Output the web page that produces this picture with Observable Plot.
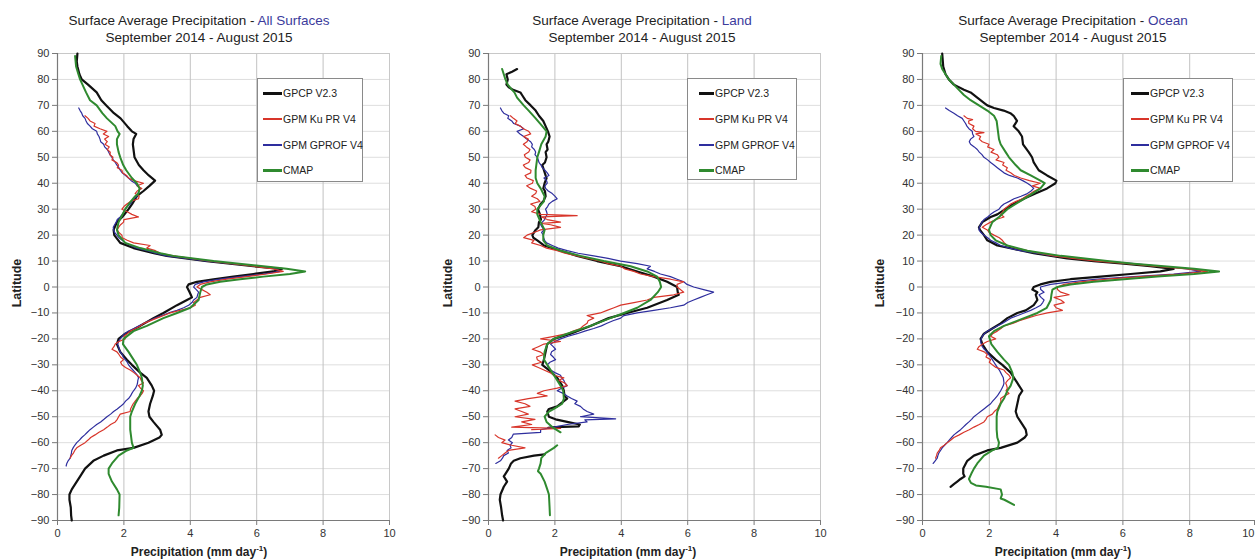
<!DOCTYPE html>
<html><head><meta charset="utf-8">
<script src="https://cdn.jsdelivr.net/npm/d3@7"></script>
<script src="https://cdn.jsdelivr.net/npm/@observablehq/plot@0.6"></script>
<style>
body{margin:0;background:#fff;font-family:"Liberation Sans",Arial,sans-serif;}
#wrap{position:relative;width:1255px;height:559px;overflow:hidden;background:#fff;}
.panel{position:absolute;top:0;width:420px;height:559px;}
.title{position:absolute;top:12px;font-size:13.5px;line-height:17px;color:#222;white-space:nowrap;text-align:center;transform:translateX(-50%);}
.title .hl{color:#3b3b9c;}
.ylab{position:absolute;font-size:12.5px;font-weight:bold;color:#222;white-space:nowrap;transform:translate(-50%,-50%) rotate(-90deg);}
.xlab{position:absolute;top:545px;font-size:12px;font-weight:bold;color:#222;white-space:nowrap;transform:translateX(-50%);}
.xlab sup{font-size:8px;vertical-align:5px;line-height:0;}
.legend{position:absolute;border:1px solid #8a8a8a;background:#fff;box-sizing:border-box;}
.legend .row{position:absolute;left:0;right:0;height:14px;font-size:10.5px;color:#222;white-space:nowrap;}
.legend .sw{position:absolute;top:6px;height:2px;}
.legend .tx{position:absolute;top:0;line-height:14px;}
</style>
</head><body>
<div id="wrap"></div>
<script>
// ---------- data: [latitude, precipitation (mm/day)] ----------
const seriesNames = ["GPCP V2.3", "GPM Ku PR V4", "GPM GPROF V4", "CMAP"];
const seriesColors = ["#111111", "#d8352a", "#2e2e9e", "#2f8a2f"];
const seriesWidths = [2.2, 1.2, 1.2, 2];
const latTicks = [-90,-80,-70,-60,-50,-40,-30,-20,-10,0,10,20,30,40,50,60,70,80,90];
const precipTicks = [0,2,4,6,8,10];
const latDomain = [-90, 90];
const precipDomain = [0, 10];
const panelTitles = [["Surface Average Precipitation - ", "All Surfaces"], ["Surface Average Precipitation - ", "Land"], ["Surface Average Precipitation - ", "Ocean"]];
const subTitle = "September 2014 - August 2015";

const allGPCP = [[90,0.6],[87,0.58],[85,0.6],[82,0.66],[80,0.73],[78,0.92],[75,1.18],[72,1.32],[70,1.47],[67,1.7],[65,1.9],[62,2.1],[60,2.24],[59,2.37],[57,2.29],[55,2.27],[52,2.3],[50,2.32],[47,2.45],[45,2.59],[43,2.75],[41,2.94],[39,2.77],[37,2.59],[35,2.39],[32,2.25],[30,2.14],[27,1.95],[25,1.79],[22,1.69],[20,1.71],[17,1.89],[15,2.29],[13,2.9],[12,3.29],[10,4.5],[8,5.9],[7,6.76],[6,6.5],[5,5.9],[4,5.3],[3,4.7],[2,4.2],[1,3.95],[0,3.9],[-2,3.98],[-4,4.05],[-5,3.9],[-7,3.6],[-10,3.19],[-12,2.89],[-15,2.49],[-17,2.19],[-18,2.04],[-20,1.84],[-22,1.79],[-25,1.89],[-28,2.09],[-30,2.24],[-33,2.49],[-35,2.69],[-38,2.84],[-40,2.91],[-42,2.87],[-45,2.79],[-48,2.74],[-50,2.77],[-52,2.89],[-55,3.09],[-57,3.14],[-58,3.07],[-60,2.74],[-62,2.29],[-63,1.79],[-65,1.39],[-67,1.08],[-70,0.83],[-72,0.73],[-75,0.58],[-78,0.43],[-80,0.36],[-82,0.36],[-85,0.4],[-88,0.41],[-90,0.43]];
const allKu = [[66,0.83],[65,0.92],[64,0.98],[63,1.13],[62,1.1],[61,1.28],[60,1.49],[59,1.38],[58,1.54],[57,1.42],[56,1.5],[55,1.43],[54,1.56],[53,1.5],[52,1.59],[51,1.58],[50,1.67],[49,1.64],[48,1.78],[47,1.84],[46,1.8],[45,1.94],[44,1.96],[43,2.08],[42,2.14],[41,2.3],[40,2.59],[39,2.4],[38,2.54],[37,2.4],[36,2.34],[35,2.46],[34,2.44],[33,2.2],[32,2.09],[31,2.0],[30,1.94],[29,2.1],[28,2.24],[27,2.44],[26,2.0],[25,1.99],[24,1.9],[23,1.84],[22,1.8],[21,1.85],[20,1.94],[19,1.95],[18,2.1],[17,2.29],[16,2.79],[15,2.69],[14,2.95],[13,3.1],[12,3.49],[10,4.6],[8,5.9],[7,6.5],[6,6.8],[5,6.3],[4,5.7],[3,5.1],[2,4.6],[1,4.3],[0,4.2],[-1,4.35],[-2,4.5],[-3,4.6],[-4,4.3],[-5,4.2],[-6,4.1],[-7,4.15],[-8,4.0],[-10,3.39],[-12,2.99],[-14,2.6],[-15,2.49],[-16,2.35],[-17,2.19],[-18,2.1],[-19,2.0],[-20,2.04],[-21,1.85],[-22,1.74],[-23,1.7],[-24,1.64],[-25,1.79],[-26,1.85],[-27,1.9],[-28,1.99],[-29,1.9],[-30,1.94],[-31,2.05],[-32,2.19],[-33,2.3],[-34,2.4],[-35,2.49],[-36,2.52],[-37,2.59],[-38,2.44],[-39,2.5],[-40,2.59],[-41,2.55],[-42,2.49],[-43,2.4],[-44,2.34],[-45,2.28],[-46,2.24],[-47,2.2],[-48,2.19],[-49,1.89],[-50,1.84],[-51,1.8],[-52,1.74],[-53,1.6],[-54,1.5],[-55,1.39],[-56,1.25],[-57,1.13],[-58,1.0],[-59,0.92],[-60,0.83],[-61,0.7],[-62,0.58],[-63,0.52],[-64,0.48],[-65,0.42],[-66,0.38]];
const allGPROF = [[69,0.64],[68,0.68],[67,0.73],[66,0.76],[65,0.83],[64,0.86],[63,0.9],[62,0.98],[61,1.05],[60,1.18],[59,1.2],[58,1.25],[57,1.28],[56,1.3],[55,1.39],[54,1.42],[53,1.5],[52,1.54],[51,1.58],[50,1.64],[49,1.68],[48,1.74],[47,1.79],[46,1.85],[45,1.89],[44,1.95],[43,2.05],[42,2.14],[41,2.22],[40,2.34],[39,2.4],[38,2.49],[37,2.45],[36,2.42],[35,2.39],[34,2.3],[33,2.25],[32,2.19],[31,2.1],[30,2.04],[29,2.0],[28,1.95],[27,1.89],[26,1.8],[25,1.77],[24,1.72],[23,1.68],[22,1.69],[21,1.72],[20,1.79],[19,1.85],[18,1.95],[17,2.04],[16,2.2],[15,2.39],[14,2.7],[13,2.95],[12,3.29],[10,4.5],[8,6.0],[7,6.6],[6,6.7],[5,6.2],[4,5.5],[3,4.9],[2,4.4],[1,4.15],[0,4.1],[-1,4.18],[-2,4.25],[-3,4.22],[-4,4.2],[-5,4.1],[-6,4.05],[-7,3.95],[-8,3.8],[-9,3.6],[-10,3.35],[-12,2.94],[-14,2.6],[-15,2.44],[-16,2.3],[-17,2.14],[-18,2.02],[-19,1.95],[-20,1.89],[-21,1.84],[-22,1.81],[-23,1.84],[-24,1.86],[-25,1.89],[-26,1.95],[-27,1.98],[-28,2.04],[-29,2.1],[-30,2.14],[-31,2.2],[-32,2.27],[-33,2.34],[-34,2.4],[-35,2.44],[-36,2.42],[-37,2.41],[-38,2.39],[-39,2.35],[-40,2.29],[-41,2.24],[-42,2.2],[-43,2.14],[-44,2.05],[-45,1.99],[-46,1.9],[-47,1.8],[-48,1.69],[-49,1.6],[-50,1.49],[-51,1.4],[-52,1.3],[-53,1.18],[-54,1.08],[-55,0.98],[-56,0.9],[-57,0.82],[-58,0.73],[-59,0.66],[-60,0.58],[-61,0.52],[-62,0.47],[-63,0.43],[-64,0.42],[-65,0.4],[-66,0.38],[-67,0.32],[-68,0.28],[-69,0.26]];
const allCMAP = [[89,0.53],[85,0.56],[82,0.63],[80,0.68],[75,0.86],[72,0.98],[70,1.18],[67,1.35],[65,1.49],[62,1.74],[60,1.81],[59,1.87],[57,1.79],[55,1.79],[52,1.84],[50,1.89],[47,1.98],[45,2.07],[42,2.24],[40,2.39],[38,2.47],[36,2.44],[35,2.34],[32,2.15],[30,2.04],[27,1.92],[25,1.84],[22,1.79],[20,1.84],[17,2.04],[15,2.49],[13,3.1],[12,3.49],[10,4.7],[8,6.2],[7,6.9],[6,7.46],[5,7.0],[4,6.2],[3,5.5],[2,4.9],[1,4.5],[0,4.35],[-2,4.3],[-5,4.25],[-8,4.0],[-10,3.6],[-12,3.19],[-15,2.69],[-17,2.29],[-20,1.99],[-22,1.97],[-25,2.14],[-28,2.29],[-30,2.39],[-33,2.49],[-35,2.54],[-38,2.57],[-40,2.54],[-42,2.47],[-45,2.34],[-48,2.24],[-50,2.19],[-55,2.19],[-60,2.24],[-62,2.29],[-63,2.09],[-65,1.84],[-68,1.64],[-70,1.54],[-72,1.54],[-75,1.64],[-78,1.79],[-80,1.87],[-85,1.86],[-88,1.84]];

const landGPCP = [[84,0.86],[83,0.71],[82,0.54],[80,0.58],[78,0.54],[77,0.61],[76,0.74],[75,0.96],[74,1.01],[72,1.11],[70,1.27],[68,1.42],[66,1.52],[64,1.65],[62,1.72],[60,1.79],[58,1.84],[56,1.8],[55,1.75],[53,1.78],[52,1.72],[50,1.75],[48,1.7],[47,1.62],[45,1.67],[43,1.72],[42,1.75],[40,1.69],[38,1.65],[37,1.7],[35,1.72],[33,1.65],[32,1.57],[30,1.49],[28,1.55],[26,1.58],[25,1.52],[23,1.5],[22,1.42],[20,1.32],[19,1.35],[18,1.47],[16,1.67],[14,2.17],[12,2.67],[10,3.27],[8,3.98],[6,4.48],[4,4.98],[2,5.38],[0,5.68],[-2,5.7],[-3,5.73],[-5,5.38],[-8,4.78],[-10,4.18],[-12,3.62],[-15,3.07],[-18,2.47],[-20,1.97],[-22,1.77],[-25,1.72],[-28,1.67],[-30,1.62],[-32,1.82],[-35,2.07],[-38,2.22],[-40,2.27],[-42,2.29],[-43,2.37],[-44,2.27],[-46,2.07],[-47,1.82],[-48,1.77],[-50,1.82],[-51,2.02],[-52,2.37],[-53,2.75],[-53.7,2.72],[-54,2.0],[-54.3,1.8],[-56,null],[-64.5,1.69],[-65,1.37],[-66,0.96],[-67,0.76],[-68,0.68],[-70,0.61],[-72,0.51],[-73,0.46],[-75,0.56],[-77,0.46],[-80,0.36],[-82,0.34],[-85,0.38],[-88,0.41],[-90,0.44]];
const landKu = [[66,0.66],[65,0.75],[64,0.86],[63,0.8],[62,0.96],[61,1.05],[60,1.21],[59,1.27],[58,1.06],[57,1.2],[56,1.16],[55,1.05],[54,1.14],[53,1.25],[52,1.21],[51,1.08],[50,1.11],[49,1.25],[48,1.21],[47,1.05],[46,1.11],[45,1.28],[44,1.27],[43,1.1],[42,1.16],[41,1.35],[40,1.32],[39,1.15],[38,1.27],[37,1.45],[36,1.42],[35,1.3],[34,1.47],[33,1.55],[32,1.27],[31,1.4],[30,1.42],[29,1.3],[28,1.57],[27.5,2.67],[27,1.6],[26,1.77],[25,2.17],[24.5,1.6],[24,1.87],[23,2.17],[22,1.57],[21,1.37],[20,1.16],[19,1.06],[18,1.37],[17,1.3],[16,1.57],[15,1.75],[14,2.07],[13,2.3],[12,2.67],[11,3.0],[10,3.37],[9,3.6],[8,3.98],[7,4.1],[6,4.38],[5,4.58],[4,4.98],[3,5.48],[2,5.88],[1,5.68],[0,5.68],[-1,5.78],[-2,5.88],[-3,5.58],[-4,4.98],[-5,4.78],[-6,4.38],[-7,3.98],[-8,3.78],[-9,3.57],[-10,3.37],[-11,2.97],[-12,3.17],[-13,3.0],[-14,2.97],[-15,2.85],[-16,2.77],[-17,2.55],[-18,2.37],[-19,1.97],[-20,1.57],[-21,2.17],[-22,1.67],[-23,1.5],[-24,1.32],[-25,1.55],[-26,1.67],[-27,1.45],[-28,1.47],[-29,1.6],[-30,1.32],[-31,1.5],[-32,1.67],[-33,1.85],[-34,1.97],[-35,2.27],[-36,2.12],[-37,2.3],[-38,2.37],[-39,2.07],[-40,1.67],[-41,1.47],[-42,1.77],[-43,1.2],[-44,0.8],[-45,1.1],[-46,1.25],[-47,0.8],[-48,1.0],[-49,1.2],[-50,0.8],[-51,1.4],[-52,1.0],[-53,1.3],[-54,0.7],[-54.5,2.17],[-55,1.3],[-56,null],[-57,0.2],[-58,0.3],[-59,0.5],[-60,0.4],[-61,0.7],[-62,1.1],[-63,0.6],[-64,0.5],[-65,0.4],[-66,0.3]];
const landGPROF = [[69,0.36],[68,0.4],[67,0.46],[66,0.61],[65,0.58],[64,0.7],[63,0.76],[62,0.96],[61,1.06],[60,0.86],[59,0.95],[58,1.06],[57,1.15],[56,1.27],[55,1.32],[54,1.3],[53,1.38],[52,1.42],[51,1.4],[50,1.47],[49,1.5],[48,1.52],[47,1.58],[46,1.62],[45,1.7],[44,1.77],[43,1.82],[42,1.67],[41,1.75],[40,1.77],[39,1.7],[38,1.72],[37,1.8],[36,1.92],[35,2.0],[34,2.07],[33,1.92],[32,1.82],[31,1.78],[30,1.72],[29,1.75],[28,1.77],[27,1.72],[26,1.69],[25,1.62],[24,1.57],[23,1.62],[22,1.67],[21,1.6],[20,1.65],[19,1.66],[18,1.69],[17,1.75],[16,1.92],[15,2.1],[14,2.37],[13,2.7],[12,3.17],[11,3.6],[10,3.98],[9,4.48],[8,4.88],[7,4.78],[6,5.0],[5,5.18],[4,5.48],[3,5.68],[2,5.88],[1,5.98],[0,6.18],[-1,6.48],[-2,6.78],[-3,6.58],[-4,6.38],[-5,6.18],[-6,6.0],[-7,5.88],[-8,5.48],[-9,4.98],[-10,4.48],[-11,4.08],[-12,3.98],[-13,3.75],[-14,3.57],[-15,3.4],[-16,3.17],[-17,2.9],[-18,2.67],[-19,2.4],[-20,2.17],[-21,2.0],[-22,1.87],[-23,1.95],[-24,2.02],[-25,1.9],[-26,1.87],[-27,1.95],[-28,2.02],[-29,1.85],[-30,1.77],[-31,1.8],[-32,1.87],[-33,2.0],[-34,2.17],[-35,2.2],[-36,2.27],[-37,2.3],[-38,2.37],[-39,2.2],[-40,2.07],[-41,2.25],[-42,2.37],[-43,2.5],[-44,2.67],[-45,2.6],[-46,2.77],[-47,2.85],[-48,2.97],[-49,3.17],[-50,2.77],[-50.8,3.83],[-51.2,2.9],[-52,2.97],[-53,2.37],[-54,1.97],[-55,1.57],[-56,1.57],[-56.7,0.75],[-58,0.7],[-59,0.6],[-60,0.72],[-61,0.65],[-62,0.68],[-63,0.56],[-64,0.6],[-65,0.46],[-66,0.42],[-67,0.36],[-68,0.22]];
const landCMAP = [[84,0.41],[82,0.46],[80,0.51],[78,0.58],[76,0.71],[75,0.78],[73,0.86],[70,1.06],[68,1.21],[65,1.42],[62,1.62],[60,1.75],[58,1.72],[55,1.59],[52,1.52],[50,1.47],[47,1.44],[45,1.42],[42,1.42],[40,1.47],[38,1.57],[35,1.69],[33,1.67],[30,1.47],[28,1.47],[25,1.57],[22,1.69],[20,1.65],[18,1.65],[16,1.77],[14,2.17],[12,2.77],[10,3.47],[8,4.28],[6,4.78],[4,5.08],[2,5.16],[0,5.2],[-2,5.1],[-5,4.88],[-8,4.48],[-10,4.08],[-12,3.67],[-15,3.07],[-18,2.37],[-20,1.97],[-22,1.77],[-25,1.69],[-28,1.67],[-30,1.77],[-33,1.92],[-35,2.02],[-38,2.17],[-40,2.25],[-43,2.27],[-45,2.22],[-47,1.97],[-48,1.82],[-50,1.69],[-52,1.75],[-54,1.92],[-56,2.17],[-58,null],[-61,2.07],[-62,1.97],[-64,1.72],[-66,1.59],[-68,1.57],[-70,1.52],[-71,1.49],[-72,1.57],[-75,1.69],[-78,1.77],[-80,1.82],[-85,1.84],[-88,1.85]];

const oceanGPCP = [[90,0.59],[85,0.62],[82,0.69],[80,0.79],[78,0.94],[76,1.24],[75,1.44],[73,1.64],[71,1.84],[70,1.94],[69,2.14],[68,2.43],[67,2.63],[66,2.73],[65,2.78],[64,2.83],[63,2.78],[62,2.73],[60,2.88],[58,2.98],[55,3.01],[52,3.18],[50,3.28],[48,3.33],[45,3.48],[43,3.73],[41,4.01],[40,3.98],[38,3.73],[36,3.38],[34,3.03],[32,2.73],[30,2.48],[28,2.24],[27,2.04],[25,1.79],[23,1.69],[22,1.72],[20,1.84],[18,1.94],[16,2.24],[15,2.63],[13,3.33],[11,4.33],[10,5.13],[9,6.03],[8,6.82],[7,7.52],[6,7.12],[5,6.23],[4,5.33],[3,4.43],[2,3.83],[1,3.53],[0,3.33],[-1,3.29],[-2,3.44],[-3,3.39],[-5,3.44],[-7,3.33],[-9,3.09],[-10,2.84],[-12,2.54],[-14,2.34],[-16,2.09],[-18,1.84],[-20,1.74],[-22,1.79],[-25,1.94],[-28,2.19],[-30,2.39],[-33,2.64],[-35,2.74],[-38,2.89],[-40,2.99],[-42,2.89],[-45,2.84],[-48,2.79],[-50,2.84],[-52,2.94],[-55,3.09],[-57,3.12],[-58,3.06],[-60,2.84],[-62,2.34],[-63,1.94],[-65,1.54],[-67,1.34],[-70,1.22],[-72,1.22],[-73,1.26],[-74,1.14],[-75,1.04],[-76,0.94],[-77,0.84]];
const oceanKu = [[66,1.24],[65,1.34],[64.5,1.5],[64,1.38],[63,1.39],[62,1.54],[61,1.5],[60,1.59],[59.5,1.84],[59,1.6],[58,1.74],[57,1.7],[56,1.79],[55,1.99],[54,1.95],[53,2.14],[52,2.05],[51,2.24],[50,2.29],[49,2.2],[48,2.44],[47,2.4],[46,2.54],[45,2.5],[44,2.64],[43,2.75],[42,2.94],[41,3.2],[40,3.53],[39,3.29],[38,3.53],[37,3.35],[36,3.24],[35,3.1],[34,2.99],[33,2.8],[32,2.64],[31,2.55],[30,2.44],[29,2.4],[28,2.34],[27,2.44],[26,2.2],[25,2.04],[24,1.9],[23,1.79],[22,1.94],[21,2.0],[20,2.14],[19,2.3],[18,2.39],[17,2.45],[16,2.54],[15,2.8],[14,3.14],[13,3.5],[12,3.93],[11,4.5],[10,5.23],[9,6.13],[8,6.92],[7,7.92],[6,8.53],[5,7.72],[4,6.53],[3,5.53],[2,4.73],[1,4.24],[0,4.04],[-1,4.04],[-2,4.14],[-3,4.39],[-4,3.94],[-5,4.14],[-6,4.24],[-7,3.94],[-8,4.0],[-9,4.19],[-10,3.74],[-11,3.4],[-12,3.14],[-13,2.9],[-14,2.7],[-15,2.44],[-16,2.35],[-17,2.24],[-18,2.1],[-19,2.04],[-20,2.19],[-21,1.94],[-22,1.8],[-23,1.69],[-24,1.64],[-25,1.85],[-26,1.94],[-27,1.9],[-28,2.04],[-29,2.0],[-30,2.09],[-31,2.2],[-32,2.44],[-33,2.5],[-34,2.59],[-35,2.64],[-36,2.55],[-37,2.49],[-38,2.52],[-39,2.54],[-40,2.5],[-41,2.59],[-42,2.45],[-43,2.34],[-44,2.35],[-45,2.32],[-46,2.28],[-47,2.24],[-48,2.15],[-49,2.09],[-50,1.94],[-51,1.9],[-52,1.84],[-53,1.7],[-54,1.54],[-55,1.4],[-56,1.24],[-57,1.1],[-58,0.94],[-59,0.85],[-60,0.74],[-61,0.65],[-62,0.54],[-63,0.5],[-64,0.44],[-65,0.42],[-66,0.39]];
const oceanGPROF = [[69,0.69],[68,0.8],[67,0.94],[66,1.05],[65,1.19],[64,1.24],[63,1.29],[62,1.33],[61,1.39],[60,1.49],[59,1.5],[58,1.54],[57,1.44],[56,1.4],[55,1.44],[54,1.55],[53,1.64],[52,1.7],[51,1.78],[50,1.84],[49,1.95],[48,2.04],[47,2.14],[46,2.24],[45,2.34],[44,2.44],[43,2.6],[42,2.84],[41,3.0],[40,3.14],[39,3.25],[38,3.33],[37,3.25],[36,3.14],[35,2.95],[34,2.74],[33,2.6],[32,2.44],[31,2.35],[30,2.29],[29,2.15],[28,2.04],[27,1.95],[26,1.84],[25,1.78],[24,1.74],[23,1.7],[22,1.69],[21,1.75],[20,1.84],[19,1.95],[18,2.04],[17,2.2],[16,2.34],[15,2.6],[14,2.94],[13,3.4],[12,3.93],[11,4.6],[10,5.43],[9,6.33],[8,7.12],[7,7.92],[6,8.33],[5,7.52],[4,6.33],[3,5.23],[2,4.43],[1,3.84],[0,3.53],[-1,3.54],[-2,3.64],[-3,3.49],[-4,3.55],[-5,3.64],[-6,3.6],[-7,3.54],[-8,3.4],[-9,3.24],[-10,3.04],[-11,2.85],[-12,2.64],[-14,2.4],[-15,2.24],[-16,2.1],[-17,1.94],[-18,1.85],[-19,1.79],[-20,1.76],[-21,1.74],[-22,1.76],[-23,1.79],[-24,1.85],[-25,1.94],[-26,1.98],[-27,2.04],[-28,2.09],[-29,2.14],[-30,2.19],[-31,2.24],[-32,2.3],[-33,2.34],[-34,2.38],[-35,2.42],[-36,2.43],[-37,2.44],[-38,2.42],[-39,2.38],[-40,2.34],[-41,2.29],[-42,2.24],[-43,2.17],[-44,2.1],[-45,2.04],[-46,1.94],[-47,1.84],[-48,1.74],[-49,1.64],[-50,1.54],[-51,1.47],[-52,1.39],[-53,1.3],[-54,1.22],[-55,1.14],[-56,1.04],[-57,0.94],[-58,0.87],[-59,0.8],[-60,0.74],[-61,0.66],[-62,0.59],[-63,0.54],[-64,0.49],[-65,0.46],[-66,0.44],[-67,0.38],[-68,0.32]];
const oceanCMAP = [[89,0.56],[86,0.54],[84,0.59],[82,0.69],[80,0.79],[78,0.94],[76,1.09],[74,1.24],[72,1.44],[70,1.69],[68,1.94],[66,2.14],[64,2.22],[62,2.24],[60,2.26],[57,2.29],[55,2.34],[52,2.49],[50,2.59],[47,2.79],[45,2.94],[43,3.24],[41,3.53],[40,3.66],[38,3.53],[36,3.29],[34,3.04],[32,2.79],[30,2.54],[27,2.29],[25,2.09],[22,1.99],[20,2.04],[18,2.19],[16,2.54],[14,3.14],[12,4.14],[10,5.53],[9,6.33],[8,7.23],[7,8.13],[6,8.88],[5,8.13],[4,7.03],[3,6.03],[2,5.13],[1,4.43],[0,4.04],[-1,3.89],[-3,3.86],[-5,3.84],[-8,3.72],[-10,3.44],[-12,3.04],[-15,2.44],[-17,2.14],[-19,1.99],[-22,2.06],[-25,2.24],[-28,2.44],[-30,2.59],[-33,2.69],[-35,2.72],[-38,2.64],[-40,2.54],[-43,2.44],[-45,2.34],[-48,2.24],[-50,2.22],[-55,2.22],[-58,2.24],[-60,2.29],[-62,2.26],[-63,2.09],[-65,1.84],[-68,1.64],[-70,1.54],[-72,1.46],[-74,1.39],[-75.5,1.45],[-76.5,1.6],[-77,1.9],[-78,2.34],[-80,2.38],[-81.5,2.34],[-82,2.45],[-84,2.74]];

const panelSeries = [
  [allGPCP, allKu, allGPROF, allCMAP],
  [landGPCP, landKu, landGPROF, landCMAP],
  [oceanGPCP, oceanKu, oceanGPROF, oceanCMAP]
];

// ---------- layout ----------
const layout = [
  {left: 0,   ml: 57, mr: 31, titleX: 199,  ylabX: 17,  xlabX: 199,  edgeTick: false, leg: {x: 257,  y: 78, w: 106, h: 104, sx: 5,  sl: 19}},
  {left: 420, ml: 68, mr: 20, titleX: 642,  ylabX: 448, xlabX: 628,  edgeTick: false, leg: {x: 687,  y: 78, w: 110, h: 102, sx: 11, sl: 15}},
  {left: 840, ml: 82, mr: 4,  titleX: 1073, ylabX: 880, xlabX: 1063, edgeTick: true,  leg: {x: 1123, y: 78, w: 110, h: 104, sx: 7,  sl: 18}}
];
const drawOrder = [0, 2, 1, 3];
const wrap = document.getElementById("wrap");

layout.forEach((L, i) => {
  const inner = L.edgeTick ? precipTicks.slice(0, -1) : precipTicks;
  const marks = [
    Plot.gridY(latTicks, {stroke: "#dedede", strokeOpacity: 1}),
    Plot.gridX(precipTicks, {stroke: "#c2c2c2", strokeOpacity: 1}),
    Plot.frame({stroke: "#c8c8c8"}),
    Plot.ruleX([precipDomain[0]], {stroke: "#7a7a7a", strokeWidth: 1.2}),
    Plot.ruleY([latDomain[0]], {stroke: "#7a7a7a", strokeWidth: 1.2}),
    Plot.axisY(latTicks, {tickSize: 5, tickPadding: 3, label: null, stroke: "#7a7a7a", fill: "#333"}),
    Plot.axisX(inner, {tickSize: 5, tickPadding: 4, label: null, stroke: "#7a7a7a", fill: "#333"})
  ];
  if (L.edgeTick) {
    marks.push(Plot.axisX(precipTicks.slice(-1), {tickSize: 5, tickPadding: 4, label: null, stroke: "#7a7a7a", fill: "#333", textAnchor: "end", dx: -2}));
  }
  drawOrder.forEach(k => {
    marks.push(Plot.line(panelSeries[i][k], {
      x: d => (d[1] == null ? NaN : d[1]),
      y: d => d[0],
      stroke: seriesColors[k],
      strokeWidth: seriesWidths[k],
      strokeLinejoin: "round"
    }));
  });
  const svg = Plot.plot({
    width: 420, height: 559,
    marginLeft: L.ml, marginRight: L.mr, marginTop: 53, marginBottom: 39,
    x: {domain: precipDomain},
    y: {domain: latDomain},
    style: {background: "transparent", fontFamily: "'Liberation Sans', Arial, sans-serif", fontSize: "11px", color: "#333", overflow: "visible"},
    marks
  });
  const p = document.createElement("div");
  p.className = "panel";
  p.style.left = L.left + "px";
  p.appendChild(svg);
  wrap.appendChild(p);

  const t = document.createElement("div");
  t.className = "title";
  t.style.left = L.titleX + "px";
  t.innerHTML = panelTitles[i][0] + '<span class="hl">' + panelTitles[i][1] + '</span><br>' + subTitle;
  wrap.appendChild(t);

  const yl = document.createElement("div");
  yl.className = "ylab";
  yl.style.left = L.ylabX + "px";
  yl.style.top = "283px";
  yl.textContent = "Latitude";
  wrap.appendChild(yl);

  const xl = document.createElement("div");
  xl.className = "xlab";
  xl.style.left = L.xlabX + "px";
  xl.innerHTML = "Precipitation (mm day<sup>-1</sup>)";
  wrap.appendChild(xl);

  const lg = document.createElement("div");
  lg.className = "legend";
  Object.assign(lg.style, {left: L.leg.x + "px", top: L.leg.y + "px", width: L.leg.w + "px", height: L.leg.h + "px"});
  const rowY = [14, 40, 66, 91];
  seriesNames.forEach((name, k) => {
    const r = document.createElement("div");
    r.className = "row";
    r.style.top = (rowY[k] - 7) + "px";
    const sw = document.createElement("span");
    sw.className = "sw";
    Object.assign(sw.style, {left: L.leg.sx + "px", width: L.leg.sl + "px", background: seriesColors[k], height: (seriesWidths[k] > 1.5 ? 2.5 : 1.5) + "px"});
    const tx = document.createElement("span");
    tx.className = "tx";
    tx.style.left = (L.leg.sx + L.leg.sl + 1) + "px";
    tx.textContent = name;
    r.appendChild(sw); r.appendChild(tx);
    lg.appendChild(r);
  });
  wrap.appendChild(lg);
});
</script>
</body></html>
